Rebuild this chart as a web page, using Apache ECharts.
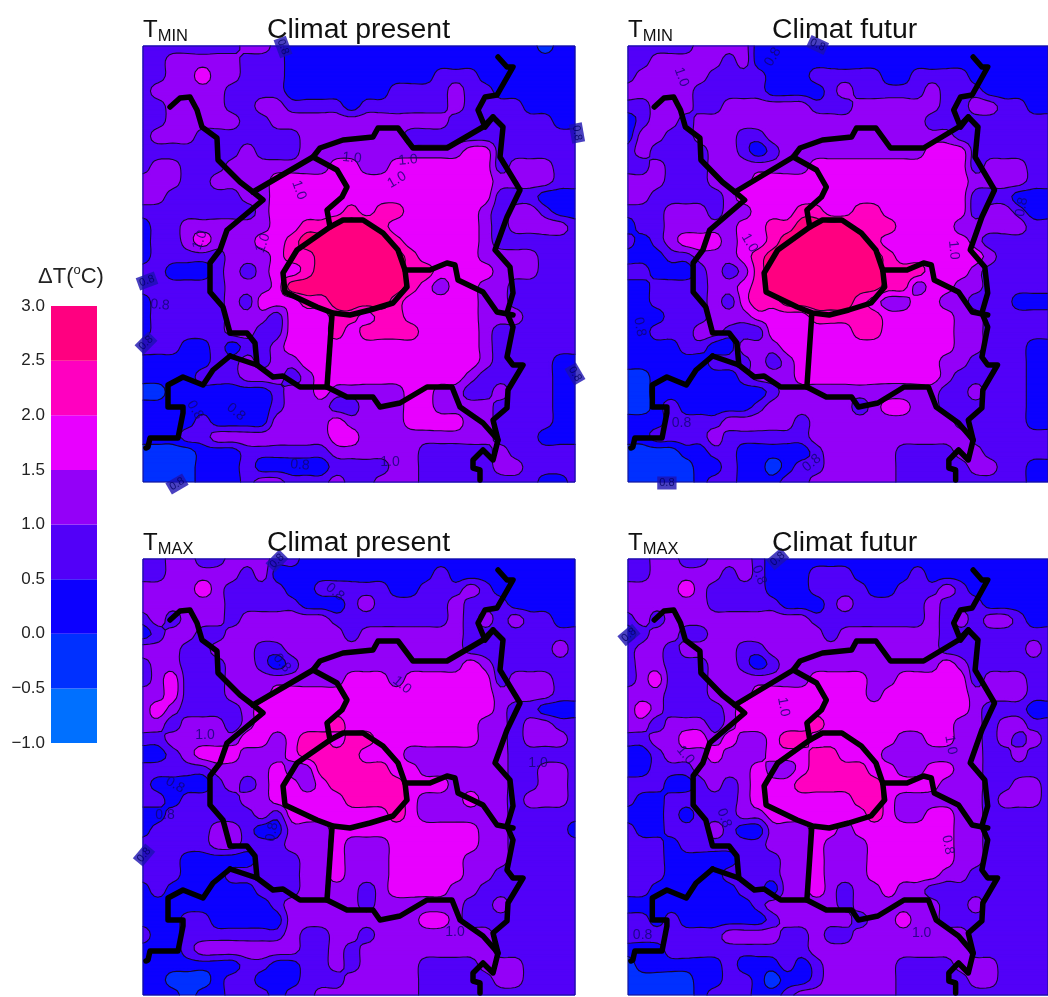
<!DOCTYPE html>
<html><head><meta charset="utf-8">
<style>html,body{margin:0;padding:0;background:#fff;overflow:hidden}#c{width:1048px;height:997px}</style>
<script src="https://cdn.jsdelivr.net/npm/echarts@6/dist/echarts.min.js"></script>
</head><body><div id="c"></div>
<script>
// Legend bins (degC) and their colours, lowest first
const binEdges=[-1,-0.5,0,0.5,1,1.5,2,2.5,3];
const binColors=['#0070ff','#0030ff','#0c00ff','#5200f8','#9400f8','#e800ff','#ff00c0','#ff0080'];
const legendTicks=[-1,-0.5,0,0.5,1,1.5,2,2.5,3];
// Bin index at 30x30 nodes; top row first
const tminPresent=[
"3333333 44 3 22222222222222222 1 22",
"33 44444 333 22222222222222222222",
"33 44 5 44 333 2222222222 333 2222222",
"3 44444 3333 2222222 333 3 4 33 222222",
"33 4444 33 44 3333 2 333333 4 3333 2222",
"33 44444 33 444444444444 3333333 22",
"3 444 333333 3 444 4444 333333333333",
"3333333 4 333 44444444444 55 333333",
"3 44 333 4444444 55 44 5555555 3 444 33",
"444 33 4444 555555555555555 4 444 33",
"44 33333 44 555555555555555 333 222",
"33333333 4 55555 6 5 66 55555 4 3 44 3 22",
"2 33 444444 55 66 777 6 555555 4 3 4444 3",
"2 3 3 4 5 444 55 6 777777 6 55555 4 333333",
"2 33333 444 5 66 777777 6 5555 4 444 333",
"33 222 3 4 3 4 5 5 6 777777 66 5555 444 333",
"333333 444 5 77777777 6 5 4 55 4 4 33333",
"2 33333 4 3 555 66 7777 6 55555 44 33333",
"2 33333 44 4 3 555 66 5 66 55555 444 3333",
"2 33333 44 33 555 6 5 6666 5555 4 333333",
"333 22 3 2 33 4 5555555555555 4 333333",
"22222 33 4 3 44 555555555555 4 3333 22",
"2222 333 444 3 4 5555555555 4 33333 22",
"11 2222222 3 44 5 44444 55 44 33 4 333 22",
"222222222 3 444 33 444 55 4444 3333 22",
"2222 3 2222 4444 5 4444 5555 44 3333 22",
"222 33 44 444444 55 444444444 333 222",
"1111 222 33 3333 4 44444 33333 4 33333",
"1111 222 3 22222 3333 44 33333 44 3333",
"1111 222 3 44 333 4 33 444 33333333 22 3"];
const tminFutur=[
"33333 4444 222222222222222222222",
"33 4444 4 3 4 222222222222222222222",
"3 44444 3333 222 33333 22 3333 222222",
"44444 33333 2222 3 4 33333 4 333 22222",
"33 444 33 444444 333 444444 33 44 33 22",
"2 3 44 3 4444444444444444 333333333",
"2 44 33 444 33 44444444444 44 3333333",
"3 4 3333 44 3 2 3 4444444444 555 333333",
"33 4 333 4444444 55555555555 3 444 33",
"444 333 444 555555555555555 4444 33",
"44 33333 4 5555555555555555 333 222",
"333 444 3 44 555 66 55 66 555555 3 44 3 22",
"2 33 44444 55 66 7777 666 5555 44444 33",
"3 2 3 4 555 4 55 6 777777 6 555555 4 33333",
"222 33 444 5 6 77777777 6 555555 4 3333",
"33 222 3 4 3 4 6 77777777 66 6 555 4 33333",
"22 3333 44 5 6 77777777 66 4 55 44 33333",
"22 3333 4 3 5 6 6 77777 6 5 44 55 44 333 22",
"222 333 444 5555 66666 55555 44 33333",
"22 333 44 333 555555 66 55555 44 33333",
"2222 33 22 444 555555555555 44 333 22",
"222222 333 4 3 4 5555555555 44 3333 22",
"11 222222 3 444 5555555555 4 33333 22",
"11 22222222 3 44444444444 33 4 333 22",
"11 2 3 22222 3 444444 3 4 55 44 333333 22",
"222 3333 44444 3 4444444444 33333 22",
"22 3333 4 333333 44444444444 333333",
"1111 22 33 22222 3 44444 3333 44 33333",
"11111 22 3 22 1 2 33 44444 33333 44 33 22",
"11111 2 33 222 33 444444 333333333 22"];
const tmaxPresent=[
"33 44 33 444 33 2222222222222222222",
"33 44444 3 4 22222222222 3 222222222",
"4444 5 4 3333 22 33333 22 333 4 3 222222",
"444444 33333 222 3 4 33333 4 333 22222",
"3 4 3 444 3 444444 333 33333 4 3 4 3 4 33 22",
"2 3 44 33 4444444 4 3 4444444 33333333",
"444 33 444 33 444444444444 333333 4 3",
"3 44 333 44 3 2 3 44444444444 5 4 333333",
"3 4 5 333 44444444 555 4 555555 3 444 33",
"44 5 333 444 555555555555555 4444 33",
"4 5 4 3333 4 5555555555555555 4 33 222",
"44 3 444 3 4 55555 6 555555555 44 3 44 33",
"33 44444 55 4 5 66 5 66 5555555 44 3 444 3",
"22 3 4 555 444 5 6666 555 4444444 33333",
"33333 4444 5 44 66666 55 444444 33 44 3",
"3 2222 3 4 3 4 55 4 5 66666 555 4444 33 44 3",
"33 2 3333 44 55555 6666 5 444 5 44 3 444 3",
"22 333333 4 3 5555555 6 5 444444 33333",
"2 3333 44 3 22 444 5555555555 44 3333 2",
"33333 44 333 444 5 444 555555 44 33333",
"333 22222 333 44 5 444 55555 444 33333",
"333 222 33333 44 5 444 55555 44 333333",
"2 3 222222 333 4444 3 4 5555 44 3333333",
"222222222 3 44444 3 444444 33 4 33333",
"222 33 22222 444444444 55 4 33333333",
"3 22 3333333 4 33 44 3 44444444 333333",
"222 3 4444444 33 4 3 444444444 333333",
"2222222 33 22 33 4 3 4444 3333 444 3333",
"22 111 2 33 222 33 3 44444 33333 44 3333",
"222 1 22 333 2 33 4444444 33333333333"];
const tmaxFutur=[
"33 44 33 444 3 22222222222222222222",
"33 44444 3 4 3 222 333 2222 3 222222222",
"4444 5 4 3333 222 3333 22 333 4 3 222222",
"444444 33333 222 3 4 33333 4 333 22222",
"3 4 3 4444444444 33333333 4 3 4 3 44 3 22",
"2 3 44 33 44444444 3 4444444 33333333",
"3 44 3 4444 33 444444444444 333333 4 3",
"3 44 333 44 3 2 3 44444444444 5 4 333333",
"3 4 5 333 4444444 5555 44 55555 3 444 33",
"444 333 444 55555555 4 555555 4444 33",
"4 5 4 3333 4 5555555555555555 4 333 22",
"44 3 444 3 4 55555 6 555555555 44 3 44 33",
"33 44 55 4 5 44 5 66 555555 44 55 44 3 4 3 4 3",
"22 3 444 5 444 555 66 555 4444444 33 4 33",
"22 333 4444 5 44 5 6666 55 44 55 44 33333",
"333 22 3 4 3 4 555 666666 5555 444 33 44 3",
"3 22 33333 4 5555555 66 5 444444 3 444 3",
"222 3 2 333 44 5555555 6 5 44 55 44 33333",
"3 22 333 4 3 22 444 55 4 5555555 44 33333",
"333 2 333333 444 5 444 555555 44 33333",
"333 22222 333 44 5 444 555555 44 33333",
"333 2222 3333 44 5 444 55555 44 333333",
"33 222222 33 2 44 5 4 3 44 5 44 333333333",
"222222222 3 44444 3 444444 33 4 33333",
"33 2 3 222222 3 44444 3 44 5 44 33333333",
"3333333 4444 33 4 33 44444444 333333",
"222 3333333333 44444444444 333333",
"1 222222 3 222 3 2 3 44444 3333 444 3333",
"11111 22 33 2 1 22 3 44444 33333 44 3333",
"11111 2 333 22 3 4444444 33333333333"];
const panelGrids=[tminPresent,tminFutur,tmaxPresent,tmaxFutur];
// Region boundaries in map units
const outerWest=[[170,107],[180,98],[190,97],[197,110],[202,127],[217,138],[218,160],[240,182],[253,192],[263,200],[227,230],[220,250],[210,263],[210,292],[223,307],[230,333],[247,333],[255,343],[257,365]];
const southLine=[[230,356],[257,365],[273,377],[283,376],[300,387],[327,387],[347,397],[373,397],[380,407],[400,403],[427,387],[452,387],[460,407],[483,423],[498,440],[493,460],[483,450],[473,460],[473,468],[480,470],[480,480]];
const eastLine=[[498,440],[493,420],[507,408],[508,390],[523,365],[513,365],[507,357],[513,327],[507,313],[513,293],[510,267],[495,250],[507,217],[520,190],[500,157],[503,127],[493,117],[485,127],[478,110],[485,97],[497,95],[513,67],[507,67],[498,57]];
const northLine=[[253,192],[313,157],[320,148],[343,140],[373,137],[378,128],[398,128],[413,148],[447,148],[483,127],[493,117]];
const innerNorth=[[313,157],[337,170],[347,187],[342,197],[327,210],[330,227]];
const centralRing=[[330,227],[343,220],[363,220],[383,233],[398,250],[405,270],[407,287],[393,303],[370,310],[350,315],[333,313],[317,307],[285,292],[283,273],[297,250],[330,227]];
const southSpoke=[[332,315],[327,387]];
const eastSpoke=[[405,270],[430,270],[447,263],[455,265],[458,280],[483,292],[497,312],[513,315]];
const westBox=[[230,356],[213,370],[203,385],[183,377],[168,385],[168,407],[183,407],[183,413],[178,438],[150,438],[148,447],[146,448]];
const boundaryLines=[outerWest,southLine,eastLine,northLine,innerNorth,centralRing,southSpoke,eastSpoke,westBox];
// Contour labels [x,y,text,rotation]
const labelsTminPresent=[[200,240,'1.0',70],[263,243,'1.0',70],[299,190,'1.0',-70],[352,158,'1.0',-5],[408,160,'1.0',5],[397,180,'1.0',30],[390,462,'1.0',0],[300,465,'0.8',-5],[236,412,'0.8',-40],[195,410,'0.8',-60],[160,305,'0.8',-5]];
const labelsTminFutur=[[292,57,'0.8',60],[198,77,'1.0',-70],[268,243,'1.0',-60],[478,250,'1.0',-85],[155,327,'0.8',-80],[198,423,'0.8',0],[332,463,'0.8',40],[548,207,'0.8',80]];
const labelsTmaxPresent=[[205,222,'1.0',0],[538,250,'1.0',0],[175,272,'0.8',-30],[165,302,'0.8',0],[282,150,'0.8',-50],[272,319,'0.8',80],[402,172,'1.0',-40],[455,419,'1.0',0],[335,79,'0.8',-40]];
const labelsTmaxFutur=[[303,194,'1.0',-80],[475,232,'1.0',-80],[472,332,'0.8',-80],[242,305,'0.8',-70],[158,422,'0.8',0],[445,420,'1.0',0],[202,242,'1.0',-50],[278,62,'0.8',-70]];
const panelLabels=[labelsTminPresent,labelsTminFutur,labelsTmaxPresent,labelsTmaxFutur];
// Labels the plot cut at the frame [x,y,text,rotation]
const edgeTminPresent=[[283,47,'0.8',-70],[577,133,'0.8',-80],[147,281,'0.8',20],[146,343,'0.8',45],[575,374,'0.8',-60],[177,484,'0.8',30]];
const edgeTminFutur=[[338,45,'0.8',-25],[183,483,'0.8',0]];
const edgeTmaxPresent=[[277,48,'0.8',45],[144,342,'0.8',50]];
const edgeTmaxFutur=[[297,46,'0.8',40],[144,122,'0.8',40]];
const panelEdgeLabels=[edgeTminPresent,edgeTminFutur,edgeTmaxPresent,edgeTmaxFutur];
const panelTitles=['Climat present','Climat futur','Climat present','Climat futur'];
const panelVars=['MIN','MIN','MAX','MAX'];

const X0=143,X1=575,Y0=46,Y1=482,N=30,SUB=4,M=(N-1)*SUB+1;
const centre=k=>(binEdges[k]+binEdges[k+1])/2;
const fields=panelGrids.map(rows=>rows.map(r=>{
  const s=r.replace(/ /g,'');const a=[];
  for(let i=0;i<N;i++)a.push(centre(+(s[Math.min(i,s.length-1)])));
  return a;}));
// Catmull-Rom resampling so the drawn contours are curved, passing through the nodes
const cr=(a,b,c,d,t)=>0.5*(2*b+(c-a)*t+(2*a-5*b+4*c-d)*t*t+(3*b-a-3*c+d)*t*t*t);
function resample(f){
  const at=(j,i)=>f[Math.max(0,Math.min(N-1,j))][Math.max(0,Math.min(N-1,i))];
  const out=[];
  for(let y=0;y<M;y++){
    const j=Math.min(N-2,Math.floor(y/SUB)),ty=y/SUB-j,row=[];
    for(let x=0;x<M;x++){
      const i=Math.min(N-2,Math.floor(x/SUB)),tx=x/SUB-i,col=[];
      for(let q=-1;q<=2;q++)col.push(cr(at(j+q,i-1),at(j+q,i),at(j+q,i+1),at(j+q,i+2),tx));
      row.push(cr(col[0],col[1],col[2],col[3],ty));
    }
    out.push(row);
  }
  return out;
}
const fine=fields.map(resample);

function panelShapes(F,api){
  const P=[];
  for(let y=0;y<M;y++){const r=[];for(let x=0;x<M;x++)r.push(api.coord([X0+x*(X1-X0)/(M-1),Y0+y*(Y1-Y0)/(M-1)]));P.push(r);}
  const fmt=p=>p[0].toFixed(1)+' '+p[1].toFixed(1);
  const children=[];
  let lineD='';
  const tl=P[0][0],br=P[M-1][M-1];
  children.push({type:'rect',silent:true,shape:{x:tl[0],y:tl[1],width:br[0]-tl[0],height:br[1]-tl[1]},style:{fill:binColors[0]}});
  for(let k=1;k<binColors.length;k++){
    const L=binEdges[k];let d='';
    for(let y=0;y<M-1;y++){
      let run=-1;
      for(let x=0;x<M-1;x++){
        const idx=[[y,x],[y,x+1],[y+1,x+1],[y+1,x]];
        const v=idx.map(q=>F[q[0]][q[1]]);
        const all=v.every(u=>u>=L),none=v.every(u=>u<L);
        if(all){if(run<0)run=x;continue;}
        if(run>=0){d+='M'+fmt(P[y][run])+'L'+fmt(P[y][x])+'L'+fmt(P[y+1][x])+'L'+fmt(P[y+1][run])+'Z';run=-1;}
        if(none)continue;
        const poly=[],cross=[];
        for(let m=0;m<4;m++){
          const n=(m+1)%4,a=P[idx[m][0]][idx[m][1]],b=P[idx[n][0]][idx[n][1]];
          if(v[m]>=L)poly.push(a);
          if((v[m]>=L)!==(v[n]>=L)){
            const t=(L-v[m])/(v[n]-v[m]),p=[a[0]+t*(b[0]-a[0]),a[1]+t*(b[1]-a[1])];
            poly.push(p);cross.push(p);
          }
        }
        d+='M'+poly.map(fmt).join('L')+'Z';
        for(let q=0;q+1<cross.length;q+=2)lineD+='M'+fmt(cross[q])+'L'+fmt(cross[q+1]);
      }
      if(run>=0){d+='M'+fmt(P[y][run])+'L'+fmt(P[y][M-1])+'L'+fmt(P[y+1][M-1])+'L'+fmt(P[y+1][run])+'Z';}
    }
    if(d)children.push({type:'path',silent:true,shape:{pathData:d},style:{fill:binColors[k],stroke:binColors[k],lineWidth:0.5}});
  }
  if(lineD)children.push({type:'path',silent:true,shape:{pathData:lineD},style:{fill:'none',stroke:'#14082e',lineWidth:1.1,lineCap:'round'}});
  children.push({type:'rect',silent:true,shape:{x:tl[0],y:tl[1],width:br[0]-tl[0],height:br[1]-tl[1]},style:{fill:'none',stroke:'#16108a',lineWidth:1}});
  return {type:'group',children};
}

const pos=[[143,46],[628,46],[143,559],[628,559]];
const grids=pos.map(p=>({left:p[0],top:p[1],width:432,height:436,show:false}));
grids.push({left:51,top:306,width:46,height:437,show:false});
const xAxes=grids.slice(0,4).map((g,i)=>({gridIndex:i,type:'value',min:X0,max:X1,show:false}));
const yAxes=grids.slice(0,4).map((g,i)=>({gridIndex:i,type:'value',min:Y0,max:Y1,inverse:true,show:false}));
xAxes.push({gridIndex:4,type:'value',min:0,max:1,show:false});
yAxes.push({gridIndex:4,type:'value',min:-1,max:3,interval:0.5,
  axisLine:{show:false},axisTick:{show:false},splitLine:{show:false},
  axisLabel:{margin:6,fontFamily:'Liberation Sans',fontSize:17,color:'#222',
    formatter:v=>(v<0?'\u2212':'')+Math.abs(v).toFixed(1)}});

const series=[];
panelGrids.forEach((g,i)=>{
  series.push({type:'custom',xAxisIndex:i,yAxisIndex:i,silent:true,animation:false,data:[[X0,Y0]],z:1,
    renderItem:(p,api)=>panelShapes(fine[i],api)});
  boundaryLines.forEach(b=>series.push({type:'line',xAxisIndex:i,yAxisIndex:i,data:b,silent:true,animation:false,z:3,
    showSymbol:false,symbol:'none',lineStyle:{color:'#000',width:5.5,join:'round',cap:'round'}}));
  series.push({type:'scatter',xAxisIndex:i,yAxisIndex:i,silent:true,animation:false,z:4,symbolSize:1,clip:false,itemStyle:{color:'transparent'},
    data:panelLabels[i].map(l=>({value:[l[0],l[1]],label:{show:true,position:'inside',formatter:l[2],rotate:l[3],color:'#10066e',fontFamily:'Liberation Sans',fontSize:14}}))});
  series.push({type:'scatter',xAxisIndex:i,yAxisIndex:i,silent:true,animation:false,z:2,symbolSize:1,clip:false,itemStyle:{color:'transparent'},
    data:panelEdgeLabels[i].map(l=>({value:[l[0],l[1]],label:{show:true,position:'inside',formatter:l[2],rotate:l[3],color:'#000060',backgroundColor:'#1c10b0',padding:[1,2],fontFamily:'Liberation Sans',fontSize:11}}))});
});
series.push({type:'custom',xAxisIndex:4,yAxisIndex:4,silent:true,animation:false,data:binColors.map((c,k)=>[k]),
  renderItem:(p,api)=>{
    const k=p.dataIndex,a=api.coord([0,binEdges[k+1]]),b=api.coord([1,binEdges[k]]);
    return {type:'rect',shape:{x:a[0],y:a[1],width:b[0]-a[0],height:b[1]-a[1]},style:{fill:binColors[k]}};
  }});

const font='Liberation Sans';
const titleOffset=[124,144,124,144];
const titles=[];
pos.forEach((p,i)=>{
  titles.push({left:p[0]+titleOffset[i],top:p[1]-30,text:panelTitles[i],padding:0,textStyle:{fontFamily:font,fontSize:28.4,fontWeight:'normal',color:'#111'}});
  titles.push({left:p[0],top:p[1]-30,text:'{t|T}{s|'+panelVars[i]+'}',padding:0,
    textStyle:{rich:{t:{fontFamily:font,fontSize:24,fontWeight:'normal',color:'#111',height:28,verticalAlign:'middle'},s:{fontFamily:font,fontSize:16.5,fontWeight:'normal',color:'#111',verticalAlign:'bottom',height:16}}}});
});
titles.push({left:38,top:264,text:'{a|\u0394T(}{b|o}{a|C)}',padding:0,
  textStyle:{rich:{a:{fontFamily:font,fontSize:22,fontWeight:'normal',color:'#222',height:26,verticalAlign:'middle'},b:{fontFamily:font,fontSize:13,fontWeight:'normal',color:'#222',verticalAlign:'top',height:12}}}});

const chart=echarts.init(document.getElementById('c'),null,{renderer:'canvas',width:1048,height:997});
chart.setOption({animation:false,backgroundColor:'#fff',title:titles,grid:grids,xAxis:xAxes,yAxis:yAxes,series});
</script></body></html>
